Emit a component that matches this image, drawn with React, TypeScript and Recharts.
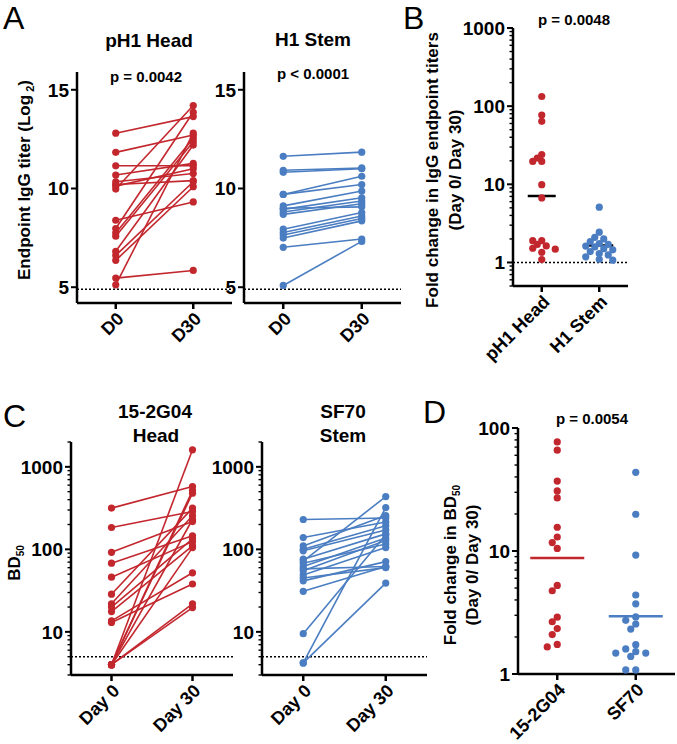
import React from 'react';
import { LineChart, Line, ScatterChart, Scatter, XAxis, YAxis, ReferenceLine } from 'recharts';

const RED = '#c3272e';
const BLUE = '#4a7dc1';
const FONT = '"Liberation Sans", Arial, Helvetica, sans-serif';

// Panel A - endpoint IgG titers (log2), paired D0 / D30
const daysA = ['D0', 'D30'];
const headD0 = [12.8, 11.83, 11.15, 10.68, 10.34, 10.12, 9.97, 8.39, 7.97, 7.75, 7.58, 6.82, 6.61, 6.36, 5.46, 5.12, 10.2];
const headD30 = [13.64, 12.71, 11.15, 11.27, 10.76, 11.0, 14.2, 9.32, 13.86, 12.54, 12.37, 12.2, 10.34, 10.09, 5.85, 12.8, 10.4];
const stemD0 = [11.63, 10.92, 10.82, 9.7, 9.7, 9.12, 8.94, 8.81, 8.69, 9.0, 7.94, 7.77, 7.64, 7.49, 7.02, 5.09];
const stemD30 = [11.84, 11.04, 11.0, 10.62, 10.2, 9.87, 9.53, 9.37, 9.23, 9.07, 8.78, 8.61, 8.48, 8.36, 7.44, 7.32];
const titerTicks = [5, 10, 15];

// Panel B - fold change in IgG endpoint titers
const groupsB = ['pH1 Head', 'H1 Stem'];
const headFold = [133, 77, 64, 24, 21.7, 19.6, 19.6, 9.9, 6.7, 1.9, 1.9, 1.7, 1.63, 1.52, 1.48, 1.35, 1.09];
const stemFold = [5.1, 2.44, 2.1, 2.0, 1.85, 1.75, 1.7, 1.62, 1.58, 1.5, 1.45, 1.38, 1.3, 1.25, 1.18, 1.1, 1.07];

// Panel C - BD50, paired Day 0 / Day 30
const daysC = ['Day 0', 'Day 30'];
const g04Day0 = [316, 184, 92, 68, 46, 28.6, 21.9, 20, 17.6, 13.6, 13, 4, 4, 4, 4, 4, 4, 4];
const g04Day30 = [577, 287, 217, 146, 124, 316, 255, 134, 110, 52, 38, 1607, 516, 479, 105, 21.9, 19.7, 230];
const sf70Day0 = [230, 139, 110, 100, 96, 76, 68, 62, 58, 55, 49, 45, 41.5, 31, 9.5, 4.2, 4.2, 72];
const sf70Day30 = [240, 215, 257, 193, 172, 154, 116, 137, 62, 128, 105, 60, 71, 62, 150, 321, 39, 436];

// Panel D - fold change in BD50
const groupsD = ['15-2G04', 'SF70'];
const g04Fold = [77, 66, 37, 30.8, 27, 15.6, 13, 11.7, 10.5, 5.25, 4.75, 2.9, 2.66, 2.34, 2.09, 1.74, 1.66];
const sf70Fold = [43.6, 19.9, 9.27, 4.39, 3.72, 2.91, 2.73, 2.55, 2.32, 1.73, 1.6, 1.52, 1.48, 1.48, 1.39, 1.08, 1.08];

const TS = 6;
const TM = 3;
const MT = 16;
const AXIS = { stroke: '#000', strokeWidth: 2.5 };

const logTicks = (lo: number, hi: number) => {
  const out: number[] = [];
  for (let e = -1; e <= 3; e++) {
    for (let k = 1; k <= 9; k++) {
      const v = Number((k * Math.pow(10, e)).toPrecision(6));
      if (v >= lo - 1e-9 && v <= hi + 1e-9) out.push(v);
    }
  }
  return out;
};
const isDecade = (v: number) => Math.abs(Math.log10(v) - Math.round(Math.log10(v))) < 1e-9;

const YTick = (p: any) => {
  const ax = p.x + TS + TM;
  const v = p.payload.value;
  const major = p.allMajor || isDecade(v);
  return (
    <g>
      <line x1={ax - (major ? 6 : 3.5)} x2={ax} y1={p.y} y2={p.y} stroke="#000" strokeWidth={major ? 2 : 1.4} />
      {major && (
        <text x={ax - 8} y={p.y} dy="0.36em" textAnchor="end" fontFamily={FONT} fontWeight="bold" fontSize={19} fill="#000">
          {v}
        </text>
      )}
    </g>
  );
};

const XTick = (p: any) => {
  const label = p.names ? p.names[Math.floor(p.payload.value)] : p.payload.value;
  const x = p.x + 9;
  const y = p.y + 9;
  return (
    <text x={x} y={y} transform={`rotate(-45 ${x} ${y})`} textAnchor="end" fontFamily={FONT} fontWeight="bold" fontSize={18} fill="#000">
      {label}
    </text>
  );
};

const pairRows = (days: string[], d0: number[], d30: number[]) =>
  days.map((day, k) => {
    const row: any = { day };
    (k === 0 ? d0 : d30).forEach((v, i) => {
      row['s' + i] = v;
    });
    return row;
  });

// deterministic beeswarm offset, in pixels, turned back into x units
const swarm = (vals: number[], centre: number, pxDecade: number, pxUnit: number, step: number, gap: number) => {
  const placed: { dx: number; py: number }[] = [];
  return vals.map((v) => {
    const py = Math.log10(v) * pxDecade;
    let best = 0;
    for (const k of [0, -1, 1, -2, 2, -3, 3, -4, 4]) {
      const dx = k * step;
      if (placed.every((q) => (q.dx - dx) ** 2 + (q.py - py) ** 2 >= gap * gap)) {
        best = dx;
        break;
      }
    }
    placed.push({ dx: best, py });
    return { x: centre + best / pxUnit, y: v };
  });
};

const geoMean = (vals: number[]) => Math.pow(10, vals.reduce((s, v) => s + Math.log10(v), 0) / vals.length);

type Frame = { l: number; r: number; t: number; b: number; xh: number; mr: number; yw: number };

const PairPanel = ({ f, days, d0, d30, color, log, domain, ticks, refY }: any) => {
  const w = f.r - f.l;
  return (
    <div style={{ position: 'absolute', left: f.l - f.yw, top: f.t - MT }}>
      <LineChart
        width={f.yw + w + f.mr}
        height={MT + (f.b - f.t) + f.xh}
        data={pairRows(days, d0, d30)}
        margin={{ top: MT, right: f.mr, bottom: 0, left: 0 }}
      >
        <XAxis
          dataKey="day"
          height={f.xh}
          padding={{ left: w / 4, right: w / 4 }}
          axisLine={AXIS}
          tickLine={AXIS}
          tickSize={6}
          tickMargin={2}
          interval={0}
          tick={(p: any) => <XTick {...p} />}
        />
        <YAxis
          type="number"
          scale={log ? 'log' : 'linear'}
          domain={domain}
          ticks={ticks}
          allowDataOverflow
          interval={0}
          width={f.yw}
          axisLine={AXIS}
          tickLine={false}
          tickSize={TS}
          tickMargin={TM}
          tick={(p: any) => <YTick {...p} allMajor={!log} />}
        />
        <ReferenceLine y={refY} stroke="#000" strokeWidth={1.5} strokeDasharray="2 2" />
        {d0.map((_: number, i: number) => (
          <Line
            key={i}
            dataKey={'s' + i}
            stroke={color}
            strokeWidth={1.6}
            dot={{ r: 3.6, fill: color, stroke: 'none' }}
            activeDot={false}
            isAnimationActive={false}
          />
        ))}
      </LineChart>
    </div>
  );
};

const FoldPanel = ({ f, names, a, b, colors, barColors, barHalf, domain, refY, step, gap }: any) => {
  const w = f.r - f.l;
  const pxUnit = w / 2;
  const pxDecade = (f.b - f.t) / Math.log10(domain[1] / domain[0]);
  const ptsA = swarm(a, 0.5, pxDecade, pxUnit, step, gap);
  const ptsB = swarm(b, 1.5, pxDecade, pxUnit, step, gap);
  const gA = geoMean(a);
  const gB = geoMean(b);
  const hw = barHalf / pxUnit;
  const dot = (c: string) => (p: any) => <circle cx={p.cx} cy={p.cy} r={3.6} fill={c} />;
  return (
    <div style={{ position: 'absolute', left: f.l - f.yw, top: f.t - MT }}>
      <ScatterChart
        width={f.yw + w + f.mr}
        height={MT + (f.b - f.t) + f.xh}
        margin={{ top: MT, right: f.mr, bottom: 0, left: 0 }}
      >
        <XAxis
          type="number"
          dataKey="x"
          domain={[0, 2]}
          ticks={[0.5, 1.5]}
          height={f.xh}
          axisLine={AXIS}
          tickLine={AXIS}
          tickSize={6}
          tickMargin={2}
          interval={0}
          tick={(p: any) => <XTick {...p} names={names} />}
        />
        <YAxis
          type="number"
          dataKey="y"
          scale="log"
          domain={domain}
          ticks={logTicks(domain[0], domain[1])}
          allowDataOverflow
          interval={0}
          width={f.yw}
          axisLine={AXIS}
          tickLine={false}
          tickSize={TS}
          tickMargin={TM}
          tick={(p: any) => <YTick {...p} />}
        />
        {refY && <ReferenceLine y={refY} stroke="#000" strokeWidth={1.5} strokeDasharray="2 2" />}
        <Scatter data={ptsA} shape={dot(colors[0])} isAnimationActive={false} />
        <Scatter data={ptsB} shape={dot(colors[1])} isAnimationActive={false} />
        <ReferenceLine segment={[{ x: 0.5 - hw, y: gA }, { x: 0.5 + hw, y: gA }]} stroke={barColors[0]} strokeWidth={2.5} />
        <ReferenceLine segment={[{ x: 1.5 - hw, y: gB }, { x: 1.5 + hw, y: gB }]} stroke={barColors[1]} strokeWidth={2.5} />
      </ScatterChart>
    </div>
  );
};

const frameA1: Frame = { l: 77, r: 232, t: 72, b: 303, xh: 62, mr: 6, yw: 62 };
const frameA2: Frame = { l: 244, r: 401, t: 72, b: 303, xh: 62, mr: 6, yw: 62 };
const frameB: Frame = { l: 513, r: 628, t: 28, b: 286, xh: 80, mr: 6, yw: 100 };
const frameC1: Frame = { l: 71, r: 233, t: 442, b: 675, xh: 69, mr: 6, yw: 62 };
const frameC2: Frame = { l: 262, r: 427, t: 442, b: 675, xh: 69, mr: 6, yw: 62 };
const frameD: Frame = { l: 518, r: 675, t: 428, b: 674, xh: 70, mr: 2, yw: 90 };

const Txt = ({ x, y, size = 18, bold = true, anchor = 'middle', rot, children }: any) => (
  <text
    x={x}
    y={y}
    fontSize={size}
    fontWeight={bold ? 'bold' : 'normal'}
    textAnchor={anchor}
    fontFamily={FONT}
    fill="#000"
    transform={rot ? `rotate(-90 ${x} ${y})` : undefined}
  >
    {children}
  </text>
);

export default function App() {
  return (
    <div style={{ position: 'relative', width: 677, height: 744, background: '#fff', overflow: 'hidden' }}>
      <style>{'body{margin:0}'}</style>
      <PairPanel f={frameA1} days={daysA} d0={headD0} d30={headD30} color={RED} domain={[4.2, 15.9]} ticks={titerTicks} refY={4.9} />
      <PairPanel f={frameA2} days={daysA} d0={stemD0} d30={stemD30} color={BLUE} domain={[4.2, 15.9]} ticks={titerTicks} refY={4.9} />
      <FoldPanel
        f={frameB}
        names={groupsB}
        a={headFold}
        b={stemFold}
        colors={[RED, BLUE]}
        barColors={['#000', '#000']}
        barHalf={14}
        domain={[0.5, 1000]}
        refY={1}
        step={4.5}
        gap={5.6}
      />
      <PairPanel f={frameC1} days={daysC} d0={g04Day0} d30={g04Day30} color={RED} log domain={[3, 2000]} ticks={logTicks(3, 2000)} refY={5} />
      <PairPanel f={frameC2} days={daysC} d0={sf70Day0} d30={sf70Day30} color={BLUE} log domain={[3, 2000]} ticks={logTicks(3, 2000)} refY={5} />
      <FoldPanel
        f={frameD}
        names={groupsD}
        a={g04Fold}
        b={sf70Fold}
        colors={[RED, BLUE]}
        barColors={[RED, BLUE]}
        barHalf={27}
        domain={[1, 100]}
        step={5}
        gap={6.8}
      />
      <svg width={677} height={744} style={{ position: 'absolute', left: 0, top: 0, pointerEvents: 'none' }}>
        <Txt x={3} y={29} size={32} bold={false} anchor="start">A</Txt>
        <Txt x={403} y={29} size={32} bold={false} anchor="start">B</Txt>
        <Txt x={3} y={427} size={32} bold={false} anchor="start">C</Txt>
        <Txt x={423} y={423} size={32} bold={false} anchor="start">D</Txt>

        <Txt x={149} y={47} size={19}>pH1 Head</Txt>
        <Txt x={146} y={82} size={15}>p = 0.0042</Txt>
        <Txt x={313} y={46} size={19}>H1 Stem</Txt>
        <Txt x={313} y={79} size={15}>p {'<'} 0.0001</Txt>
        <Txt x={574} y={25} size={15}>p = 0.0048</Txt>

        <Txt x={155} y={418} size={19}>15-2G04</Txt>
        <Txt x={156} y={442} size={19}>Head</Txt>
        <Txt x={343} y={418} size={19}>SF70</Txt>
        <Txt x={343} y={442} size={19}>Stem</Txt>
        <Txt x={592} y={424} size={15}>p = 0.0054</Txt>

        <Txt x={30} y={180} size={17} rot>
          Endpoint IgG titer (Log
          <tspan dy={4} fontSize={11}> 2</tspan>
          <tspan dy={-4}>)</tspan>
        </Txt>
        <Txt x={438} y={170} size={17} rot>Fold change in IgG endpoint titers</Txt>
        <Txt x={461} y={170} size={17} rot>(Day 0/ Day 30)</Txt>

        <Txt x={20} y={563} size={17} rot>
          BD
          <tspan dy={4} fontSize={10}>50</tspan>
        </Txt>
        <Txt x={456} y={565} size={17} rot>
          Fold change in BD
          <tspan dy={4} fontSize={10}>50</tspan>
        </Txt>
        <Txt x={478} y={565} size={17} rot>(Day 0/ Day 30)</Txt>
      </svg>
    </div>
  );
}
